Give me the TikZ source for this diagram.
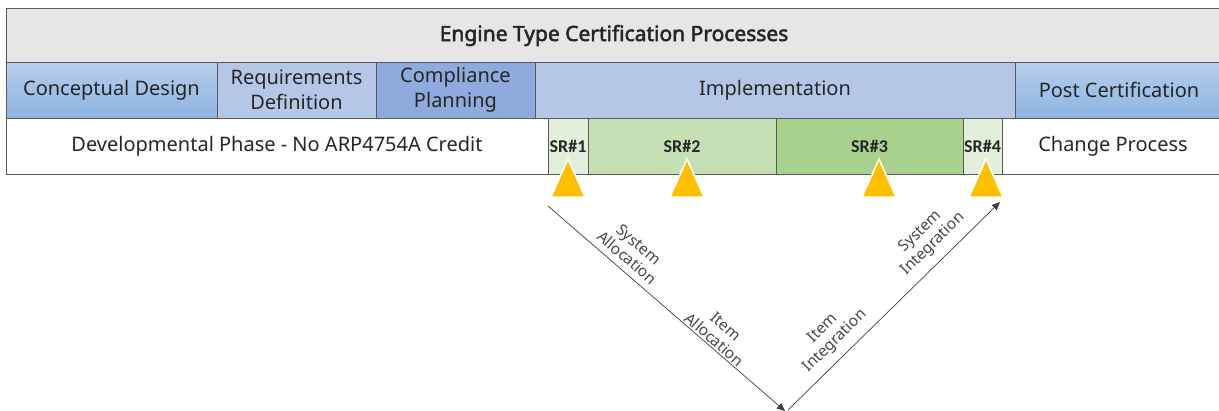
\documentclass[tikz,border=0pt]{standalone}
\usepackage{fontspec}
\setmainfont{Noto Sans}
\newfontfamily\headfont{Noto Sans}[FakeBold=2.5]
\newfontfamily\srfont{Carlito}
\usetikzlibrary{arrows.meta}
\definecolor{hdrgray}{HTML}{E7E6E6}
\definecolor{blueA}{HTML}{B4C7E7}
\definecolor{blueB}{HTML}{8FAADC}
\definecolor{gradtop}{HTML}{B6CEEC}
\definecolor{gradbot}{HTML}{8EB4E3}
\definecolor{greenL}{HTML}{E2EFDA}
\definecolor{greenM}{HTML}{C5E0B4}
\definecolor{greenD}{HTML}{A9D18E}
\definecolor{amber}{HTML}{FFC000}
\definecolor{edge}{HTML}{595959}
\definecolor{ink}{HTML}{262626}
\tikzset{
  cell/.style={draw=edge, line width=0.8pt, inner sep=0pt, outer sep=0pt,
    minimum height=56pt, text=ink, font=\fontsize{20}{25}\selectfont, align=center},
  phasegrad/.style={cell, top color=gradtop, bottom color=gradbot},
  srcell/.style={cell, font=\srfont\bfseries\fontsize{18}{18}\selectfont},
  milestone/.style={fill=amber, draw=white, line width=1.5pt, line join=miter},
  vflow/.style={line width=0.7pt, draw=black!75, -{Triangle[length=8pt,width=7pt]}},
  vlabel/.style={text=ink!85, font=\fontsize{15.5}{17.5}\selectfont, align=center, inner sep=0pt}
}
\begin{document}
\begin{tikzpicture}[x=1pt, y=-1pt]
\useasboundingbox (0,0) rectangle (1219,410);
\fill[white] (0,0) rectangle (1219,410);

% title bar
\node[cell, fill=hdrgray, minimum width=1216pt, minimum height=55pt,
      font=\headfont\fontsize{21}{22}\selectfont] (title) at (614,35.5)
      {Engine Type Certification Processes};

% phase row
\node[phasegrad, minimum width=211pt] (cd) at (111.5,90) {Conceptual Design};
\node[cell, fill=blueA, minimum width=159pt] (rd) at (296.5,90) {Requirements\\Definition};
\node[cell, fill=blueB, minimum width=159pt] (cp) at (455.5,90) {Compliance\\Planning};
\node[cell, fill=blueA, minimum width=480pt] (impl) at (775,90) {Implementation};
\node[phasegrad, minimum width=208pt] (post) at (1119,90) {Post Certification};

% credit row
\node[cell, fill=white, minimum width=542pt] (dev) at (277,146) {Developmental Phase - No ARP4754A Credit};
\node[srcell, fill=greenL, minimum width=40pt] (sr1) at (568,146) {SR\#1};
\node[srcell, fill=greenM, minimum width=188pt] (sr2) at (682,146) {SR\#2};
\node[srcell, fill=greenD, minimum width=187pt] (sr3) at (869.5,146) {SR\#3};
\node[srcell, fill=greenL, minimum width=39pt] (sr4) at (982.5,146) {SR\#4};
\node[cell, fill=white, minimum width=222pt] (chg) at (1113,146) {Change Process};

% review milestones
\foreach \mx in {568,687,879,986}
  \path[milestone] (\mx,159) -- (\mx+17,197) -- (\mx-17,197) -- cycle;

% V-model flow
\coordinate (vstart) at (548,206);
\coordinate (vbotL) at (785,411);
\coordinate (vbotR) at (788,410);
\coordinate (vend) at (1000,202);
\draw[vflow] (vstart) -- (vbotL);
\draw[vflow] (vbotR) -- (vend);

\node[vlabel, rotate=-40.8] (sa) at (633,251) {System\\Allocation};
\node[vlabel, rotate=-40.8] (ia) at (720,333) {Item\\Allocation};
\node[vlabel, rotate=44.5] (ii) at (829,335) {Item\\Integration};
\node[vlabel, rotate=44.5] (si) at (927,238) {System\\Integration};
\end{tikzpicture}
\end{document}
